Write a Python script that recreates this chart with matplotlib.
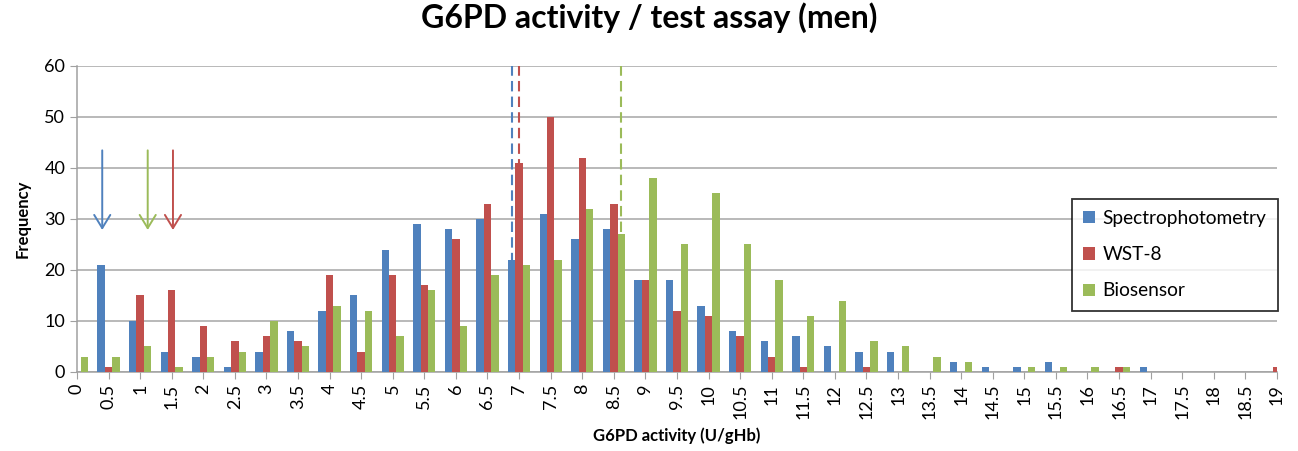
import numpy as np
import matplotlib.pyplot as plt

plt.rcParams['font.family'] = ['Lato', 'DejaVu Sans']

# G6PD activity bins (U/gHb)
bins = [0, 0.5, 1, 1.5, 2, 2.5, 3, 3.5, 4, 4.5, 5, 5.5, 6, 6.5, 7, 7.5, 8, 8.5,
        9, 9.5, 10, 10.5, 11, 11.5, 12, 12.5, 13, 13.5, 14, 14.5, 15, 15.5, 16,
        16.5, 17, 17.5, 18, 18.5, 19]
bin_labels = [f"{b:g}" for b in bins]

spectro = [0, 21, 10, 4, 3, 1, 4, 8, 12, 15, 24, 29, 28, 30, 22, 31, 26, 28,
           18, 18, 13, 8, 6, 7, 5, 4, 4, 0, 2, 1, 1, 2, 0, 0, 1, 0, 0, 0, 0]
wst8 = [0, 1, 15, 16, 9, 6, 7, 6, 19, 4, 19, 17, 26, 33, 41, 50, 42, 33,
        18, 12, 11, 7, 3, 1, 0, 1, 0, 0, 0, 0, 0, 0, 0, 1, 0, 0, 0, 0, 1]
biosensor = [3, 3, 5, 1, 3, 4, 10, 5, 13, 12, 7, 16, 9, 19, 21, 22, 32, 27,
             38, 25, 35, 25, 18, 11, 14, 6, 5, 3, 2, 0, 1, 1, 1, 1, 0, 0, 0, 0, 0]

series_names = ['Spectrophotometry', 'WST-8', 'Biosensor']
colors = ['#4F81BD', '#C0504D', '#9BBB59']

# mean lines (dashed) and cut-off arrows, in U/gHb
means = [6.89, 7.0, 8.61]
cutoffs = [0.4, 1.52, 1.12]
arrow_top = 44
arrow_tip = 27.3

fig = plt.figure(figsize=(12.98, 4.51), dpi=100)
ax = fig.add_axes([0.0593, 0.1752, 0.9245, 0.6785])

x = np.arange(len(bins))
w = 0.235
for i, (vals, name, c) in enumerate(zip([spectro, wst8, biosensor], series_names, colors)):
    ax.bar(x + (i - 1) * w, vals, width=w, color=c, label=name, zorder=3)

step = bins[1] - bins[0]
for m, c in zip(means, colors):
    ax.vlines(m / step, 3, 60, colors=c, linestyles=(0, (5, 2.5)), linewidth=1.5, zorder=4)

for co, c in zip(cutoffs, colors):
    ax.annotate('', xy=(co / step, arrow_tip), xytext=(co / step, arrow_top),
                arrowprops=dict(arrowstyle='->,head_length=0.95,head_width=0.58',
                                color=c, lw=1.4), zorder=4)

ax.set_xlim(0, len(bins) - 1)
ax.set_ylim(0, 60)
ax.set_yticks(range(0, 61, 10))
ax.set_xticks(x)
ax.set_xticklabels(bin_labels, rotation=90, fontsize=13)
ax.tick_params(axis='y', labelsize=13, length=5, color='#A0A0A0')
ax.tick_params(axis='x', length=5, color='#A0A0A0', direction='out')
ax.grid(axis='y', color='#A6A6A6', linewidth=1.1, zorder=0)
for s in ['top', 'right']:
    ax.spines[s].set_visible(False)
for s in ['left', 'bottom']:
    ax.spines[s].set_color('#A0A0A0')
    ax.spines[s].set_linewidth(1.1)

ax.set_ylabel('Frequency', fontsize=12, fontweight='bold', labelpad=10)
ax.set_xlabel('G6PD activity (U/gHb)', fontsize=12, fontweight='bold', labelpad=6)
fig.suptitle('G6PD activity / test assay (men)', fontsize=23, fontweight='bold', y=0.995)

leg = fig.legend(loc='center', bbox_to_anchor=(0.9052, 0.435), fontsize=13.8,
                 frameon=True, fancybox=False, edgecolor='black', handlelength=0.6,
                 handleheight=0.6, labelspacing=1.0, handletextpad=0.4,
                 borderpad=0.6, borderaxespad=0)
leg.get_frame().set_linewidth(1.3)

fig.savefig('out.png', dpi=100)
